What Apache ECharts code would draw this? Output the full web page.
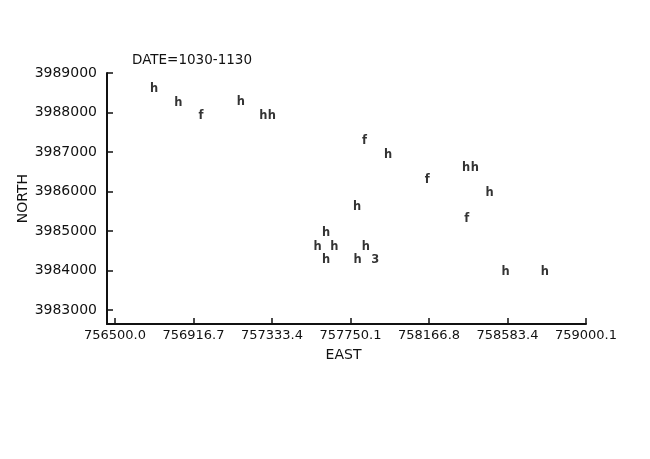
<!DOCTYPE html>
<html>
<head>
<meta charset="utf-8">
<script src="https://cdn.jsdelivr.net/npm/echarts@6/dist/echarts.min.js"></script>
<style>
html,body{margin:0;padding:0;background:#fff;}
#chart{width:650px;height:459px;}
</style>
</head>
<body>
<div id="chart"></div>
<script>
var titleText = 'DATE=1030-1130';
var xTicks = [756500.0, 756916.7, 757333.4, 757750.1, 758166.8, 758583.4, 759000.1];
var yTicks = [3983000, 3984000, 3985000, 3986000, 3987000, 3988000, 3989000];
var east = [756707, 756836, 756957, 757168, 757288, 757333, 757825, 757949, 758364, 758410,
            758158, 758489, 757785, 758367, 757620, 757575, 757664, 757832, 757621, 757788,
            757882, 758573, 758782];
var north = [3988594, 3988240, 3987918, 3988255, 3987918, 3987918, 3987284, 3986929, 3986592, 3986592,
             3986295, 3985973, 3985603, 3985307, 3984944, 3984604, 3984604, 3984604, 3984267, 3984267,
             3984267, 3983971, 3983971];
var marks = ['h', 'h', 'f', 'h', 'h', 'h', 'f', 'h', 'h', 'h',
             'f', 'h', 'h', 'f', 'h', 'h', 'h', 'h', 'h', 'h',
             '3', 'h', 'h'];

var data = east.map(function (e, i) { return [e, north[i], marks[i]]; });
var FONT = 'DejaVu Sans';
var INK = '#111';

var chart = echarts.init(document.getElementById('chart'), null, {renderer: 'canvas'});
chart.setOption({
  animation: false,
  backgroundColor: '#fff',
  title: {
    text: titleText,
    left: 127,
    top: 48,
    textStyle: {fontFamily: FONT, fontSize: 13.5, fontWeight: 'normal', color: INK}
  },
  grid: {left: 107, right: 64, top: 73, bottom: 135, containLabel: false},
  xAxis: {
    type: 'value',
    min: 756457.5,
    max: 759000.1,
    name: 'EAST',
    nameLocation: 'middle',
    nameGap: 24,
    nameMoveOverlap: false,
    nameTextStyle: {fontFamily: FONT, fontSize: 14, color: INK, padding: [0, 6, 0, 0]},
    splitLine: {show: false},
    axisLine: {show: true, lineStyle: {color: INK, width: 2}},
    axisTick: {show: true, inside: true, length: 6, customValues: xTicks, lineStyle: {color: INK, width: 1.5}},
    axisLabel: {
      show: true, customValues: xTicks, margin: 5,
      fontFamily: FONT, fontSize: 13, color: INK,
      formatter: function (v) { return v.toFixed(1); }
    }
  },
  yAxis: {
    type: 'value',
    min: 3982645,
    max: 3989000,
    name: 'NORTH',
    nameLocation: 'middle',
    nameGap: 77,
    nameMoveOverlap: false,
    nameTextStyle: {fontFamily: FONT, fontSize: 14, color: INK},
    splitLine: {show: false},
    axisLine: {show: true, lineStyle: {color: INK, width: 2}},
    axisTick: {show: true, inside: true, length: 6, customValues: yTicks, lineStyle: {color: INK, width: 1.5}},
    axisLabel: {
      show: true, customValues: yTicks, margin: 10,
      fontFamily: FONT, fontSize: 14, color: INK,
      formatter: function (v) { return String(Math.round(v)); }
    }
  },
  series: [{
    type: 'scatter',
    data: data,
    symbol: 'circle',
    symbolSize: 1,
    itemStyle: {color: 'rgba(0,0,0,0)'},
    label: {
      show: true,
      position: 'inside',
      fontFamily: FONT,
      fontSize: 11.5,
      fontWeight: 'bold',
      color: '#000',
      textBorderWidth: 0,
      formatter: function (p) { return p.value[2]; }
    }
  }]
});
</script>
</body>
</html>
